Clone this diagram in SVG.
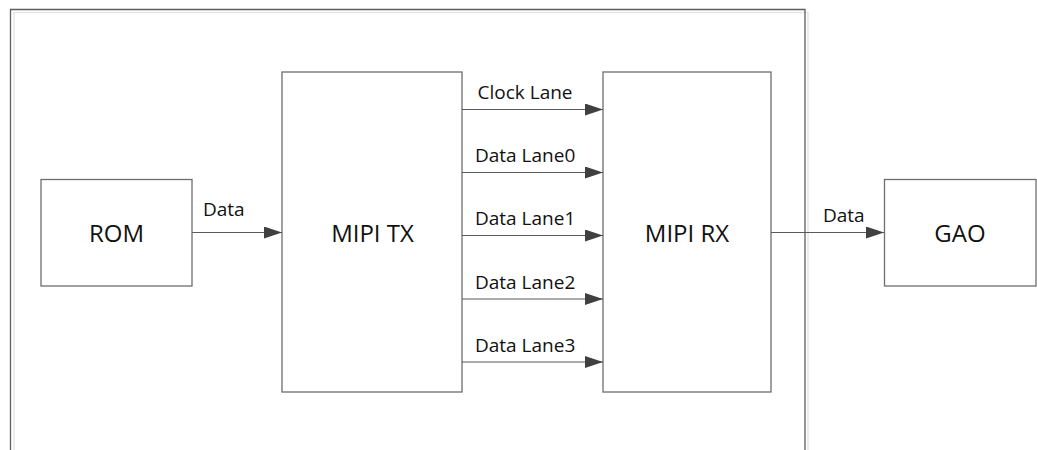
<svg xmlns="http://www.w3.org/2000/svg" width="1037" height="450" viewBox="0 0 1037 450">
<style>
.box{fill:#fff;stroke:#6e6e6e;stroke-width:1.3}
.shadow{fill:none;stroke:#e6e6e6;stroke-width:1.5}
.frame{fill:none;stroke:#5e5e5e;stroke-width:1.3}
.conn{stroke:#5a5a5a;stroke-width:1.2;fill:none}
.big{font-family:"Open Sans","Liberation Sans",sans-serif;font-size:24px;fill:#111;text-anchor:middle}
.lbl{font-family:"Open Sans","Liberation Sans",sans-serif;font-size:19px;fill:#111}
</style>
<defs>
<marker id="arr" viewBox="0 0 18 12" refX="18" refY="6" markerWidth="18" markerHeight="12" markerUnits="userSpaceOnUse" orient="auto">
<path d="M0,0 L18,6 L0,12 Z" fill="#404040"/>
</marker>
</defs>
<g id="frame">
<path class="shadow" d="M14,460 V12.5 H808 V460"/>
<path class="frame" d="M10.5,460 V9.5 H805 V460"/>
</g>
<g id="rom">
<rect class="box" x="41" y="179.5" width="151" height="106.5"/>
<text class="big" x="116.5" y="241.5">ROM</text>
</g>
<g id="mipi-tx">
<rect class="box" x="282" y="72" width="180" height="320"/>
<text class="big" x="372.5" y="241.5">MIPI TX</text>
</g>
<g id="mipi-rx">
<rect class="box" x="603" y="72" width="168" height="320"/>
<text class="big" x="687" y="241.5">MIPI RX</text>
</g>
<g id="gao">
<rect class="box" x="884.5" y="179.5" width="151.5" height="106.5"/>
<text class="big" x="960" y="241.5">GAO</text>
</g>
<g id="connectors">
<line class="conn" x1="192" y1="232.5" x2="282" y2="232.5" marker-end="url(#arr)"/>
<line class="conn" x1="462" y1="109.5" x2="603" y2="109.5" marker-end="url(#arr)"/>
<line class="conn" x1="462" y1="172.5" x2="603" y2="172.5" marker-end="url(#arr)"/>
<line class="conn" x1="462" y1="235.5" x2="603" y2="235.5" marker-end="url(#arr)"/>
<line class="conn" x1="462" y1="299" x2="603" y2="299" marker-end="url(#arr)"/>
<line class="conn" x1="462" y1="362" x2="603" y2="362" marker-end="url(#arr)"/>
<line class="conn" x1="771" y1="232.5" x2="884" y2="232.5" marker-end="url(#arr)"/>
<text class="lbl" x="203" y="215.5">Data</text>
<text class="lbl" x="477.5" y="98.5">Clock Lane</text>
<text class="lbl" x="475" y="162">Data Lane0</text>
<text class="lbl" x="475" y="225">Data Lane1</text>
<text class="lbl" x="475" y="288.5">Data Lane2</text>
<text class="lbl" x="475" y="351.5">Data Lane3</text>
<text class="lbl" x="823" y="221.5">Data</text>
</g>
</svg>
